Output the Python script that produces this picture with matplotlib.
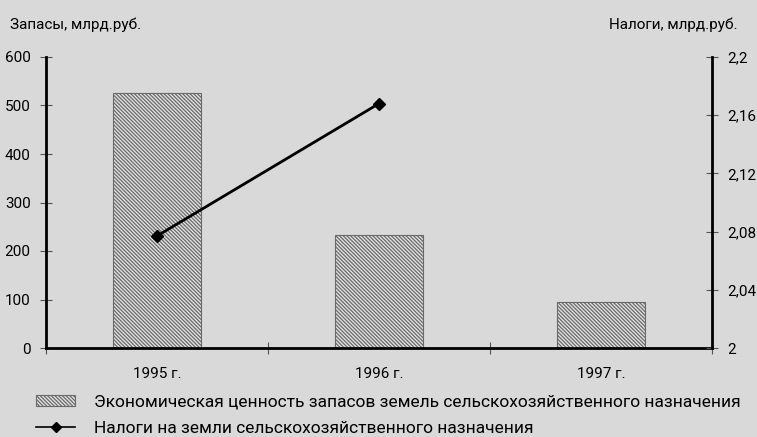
import matplotlib
matplotlib.use("Agg")
import matplotlib.pyplot as plt
from matplotlib.ticker import FixedLocator

plt.rcParams['font.family'] = ['Roboto', 'DejaVu Sans']
plt.rcParams['hatch.linewidth'] = 0.9
plt.rcParams['hatch.color'] = '#3a3a3a'

years = ['1995 г.', '1996 г.', '1997 г.']
reserves = [526, 234, 94]          # млрд.руб., левая ось
taxes = [2.077, 2.168]             # млрд.руб., правая ось
left_ticks = [0, 100, 200, 300, 400, 500, 600]
right_ticks = [2.0, 2.04, 2.08, 2.12, 2.16, 2.2]
right_labels = ['2', '2,04', '2,08', '2,12', '2,16', '2,2']

bg = '#d9d9d9'
fig = plt.figure(figsize=(7.57, 4.37), dpi=100, facecolor=bg)
ax = fig.add_axes([46/757, (437-348)/437, (712-46)/757, (348-57)/437])
ax.set_facecolor(bg)

x = [0, 1, 2]
bars = ax.bar(x, reserves, width=0.4, color='#e2e2e2', edgecolor='#6a6a6a',
              linewidth=0.8, hatch='\\' * 9, zorder=2,
              label='Экономическая ценность запасов земель сельскохозяйственного назначения')
ax.set_xlim(-0.5, 2.5)
ax.set_ylim(0, 600)
ax.set_yticks(left_ticks)
ax.xaxis.set_major_locator(FixedLocator([-0.5, 0.5, 1.5, 2.5]))
ax.xaxis.set_minor_locator(FixedLocator(x))
ax.set_xticklabels([])
ax.set_xticklabels(years, minor=True)
ax.tick_params(axis='x', which='major', direction='inout', length=8, width=0.8, color='#555555')
ax.tick_params(axis='x', which='minor', length=0, pad=14, labelsize=11)
ax.tick_params(axis='y', direction='inout', length=8, width=0.8, color='#555555', labelsize=11, pad=7)
for s in ['top', 'right']:
    ax.spines[s].set_visible(False)
ax.spines['left'].set_linewidth(2)
ax.spines['bottom'].set_linewidth(2)

ax2 = ax.twinx()
ax2.set_ylim(2.0, 2.2)
ax2.set_yticks(right_ticks)
ax2.set_yticklabels(right_labels)
ax2.tick_params(axis='y', direction='inout', length=8, width=0.8, color='#555555', labelsize=11, pad=7)
for s in ['top', 'left', 'bottom']:
    ax2.spines[s].set_visible(False)
ax2.spines['right'].set_linewidth(2)
line, = ax2.plot(x[:len(taxes)], taxes, color='black', linewidth=2, marker='D',
                 markersize=6, zorder=3,
                 label='Налоги на земли сельскохозяйственного назначения')

fig.text(10/757, 1 - 25/437, 'Запасы, млрд.руб.', fontsize=11, va='center', ha='left')
fig.text(738/757, 1 - 25/437, 'Налоги, млрд.руб.', fontsize=11, va='center', ha='right')

leg = fig.legend([bars, line], [bars.get_label(), line.get_label()],
                 loc='lower left', bbox_to_anchor=(26/757, -9/437), frameon=False,
                 fontsize=12.5, handlelength=2.2, handleheight=0.55,
                 handletextpad=1.1, labelspacing=0.62, borderaxespad=0.2)
for h in leg.legend_handles[1:]:
    h.set_linewidth(1.2)
    h.set_markersize(5)

fig.savefig('out.png', dpi=100, facecolor=bg)
